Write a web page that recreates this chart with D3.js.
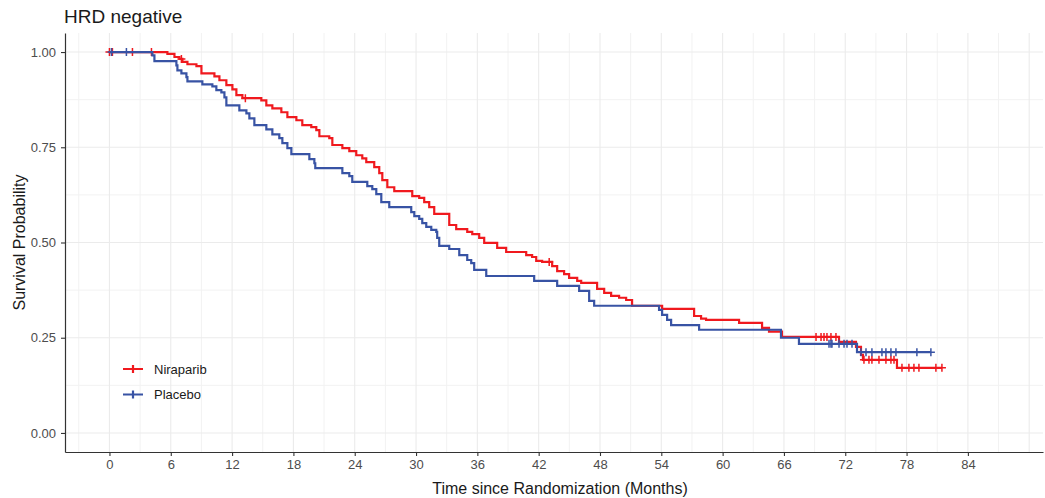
<!DOCTYPE html>
<html>
<head>
<meta charset="utf-8">
<script src="https://cdn.jsdelivr.net/npm/d3@7"></script>
<style>
  body { margin: 0; background: #fff; }
  svg { display: block; font-family: "Liberation Sans", Arial, sans-serif; }
</style>
</head>
<body>
<div id="chart"></div>
<script>
// Kaplan-Meier steps: [months, survival]
const niraparibSteps = [
  [0, 1], [5.67, 0.995], [6.36, 0.987], [6.85, 0.982], [7.14, 0.974], [7.63, 0.968], [8.51, 0.963],
  [9.00, 0.944], [10.27, 0.936], [10.76, 0.926], [11.44, 0.913], [12.03, 0.902], [12.42, 0.887],
  [13.01, 0.879], [14.86, 0.873], [15.35, 0.860], [15.94, 0.852], [16.82, 0.842], [17.41, 0.829],
  [18.29, 0.821], [18.87, 0.808], [19.75, 0.803], [20.24, 0.795], [20.54, 0.779], [21.51, 0.774],
  [21.81, 0.756], [22.79, 0.748], [23.47, 0.740], [24.15, 0.729], [24.74, 0.721], [25.13, 0.711],
  [25.91, 0.698], [26.40, 0.682], [26.70, 0.664], [27.19, 0.645], [27.87, 0.635], [29.63, 0.622],
  [30.31, 0.617], [30.80, 0.606], [31.29, 0.593], [31.78, 0.575], [33.25, 0.546], [33.93, 0.535],
  [35.01, 0.528], [35.50, 0.522], [36.18, 0.512], [36.67, 0.499], [37.94, 0.486], [38.82, 0.475],
  [40.78, 0.467], [41.36, 0.462], [41.76, 0.452], [42.34, 0.449], [43.32, 0.438], [43.81, 0.425],
  [44.49, 0.417], [44.98, 0.407], [45.77, 0.399], [46.16, 0.394], [47.72, 0.378], [48.41, 0.368],
  [49.09, 0.360], [49.87, 0.355], [50.56, 0.349], [51.14, 0.334], [54.08, 0.326], [57.21, 0.307],
  [57.89, 0.300], [58.38, 0.297], [61.61, 0.289], [63.86, 0.276], [64.54, 0.266], [65.81, 0.252],
  [71.39, 0.239], [73.05, 0.226], [73.54, 0.205], [73.73, 0.192], [77.06, 0.171]
];
const niraparibEnd = 81.46;
const niraparibCensor = [0, 0.29, 2.25, 4.11, 7.04, 13.30, 43.03, 69.14, 69.63, 69.92, 70.21, 70.60,
  71.09, 73.83, 74.32, 74.61, 75.30, 75.98, 76.47, 76.77, 77.55, 78.23, 78.72, 79.21, 80.87, 81.46];

const placeboSteps = [
  [0, 1], [4.20, 0.991], [4.40, 0.976], [6.55, 0.965], [6.65, 0.952], [7.04, 0.944], [7.53, 0.934],
  [7.63, 0.923], [9.09, 0.915], [10.07, 0.910], [10.46, 0.900], [10.95, 0.894], [11.25, 0.881],
  [11.44, 0.860], [12.71, 0.847], [13.40, 0.839], [13.69, 0.826], [14.18, 0.808], [15.35, 0.797],
  [15.94, 0.784], [16.62, 0.774], [16.92, 0.761], [17.41, 0.748], [17.80, 0.732], [19.56, 0.719],
  [20.05, 0.708], [20.14, 0.695], [22.79, 0.682], [23.47, 0.674], [23.76, 0.659], [25.23, 0.648],
  [25.72, 0.640], [26.11, 0.627], [26.60, 0.606], [27.38, 0.593], [29.53, 0.580], [29.83, 0.569],
  [30.31, 0.562], [30.61, 0.551], [31.00, 0.541], [31.49, 0.533], [31.98, 0.528], [32.07, 0.512],
  [32.27, 0.491], [33.25, 0.483], [34.23, 0.467], [35.01, 0.454], [35.40, 0.446], [35.69, 0.428],
  [36.87, 0.412], [41.56, 0.399], [43.81, 0.386], [45.96, 0.373], [46.94, 0.347], [47.43, 0.334],
  [53.78, 0.323], [54.08, 0.310], [54.57, 0.297], [54.96, 0.283], [57.70, 0.271], [65.71, 0.250],
  [67.47, 0.234], [73.15, 0.212]
];
const placeboEnd = 80.38;
const placeboCensor = [0.2, 1.66, 70.41, 70.60, 70.70, 71.39, 71.88, 72.17, 72.66, 73.54, 74.03,
  74.61, 75.59, 75.98, 76.47, 76.96, 79.01, 80.38];

const xTicks = d3.range(0, 85, 6);
const yTicks = [0, 0.25, 0.5, 0.75, 1];

const series = [
  { name: "Niraparib", color: "#F0191E", steps: niraparibSteps, end: niraparibEnd, censor: niraparibCensor },
  { name: "Placebo", color: "#3853A4", steps: placeboSteps, end: placeboEnd, censor: placeboCensor }
];

const width = 1045, height = 498;
const margin = { top: 33, right: 2, bottom: 46, left: 65 };

const svg = d3.select("#chart").append("svg")
  .attr("width", width)
  .attr("height", height);

const x = d3.scaleLinear().domain([-4.35, 91.35]).range([margin.left, width - margin.right]);
const y = d3.scaleLinear().domain([-0.05, 1.05]).range([height - margin.bottom, margin.top]);

// grid
const grid = svg.append("g");
const xMinor = d3.range(-3, 91, 6);
const yMinor = [0.125, 0.375, 0.625, 0.875];
grid.selectAll(".xm").data(xMinor).enter().append("line")
  .attr("x1", d => x(d)).attr("x2", d => x(d))
  .attr("y1", margin.top).attr("y2", height - margin.bottom)
  .attr("stroke", "#F2F2F2").attr("stroke-width", 1);
grid.selectAll(".ym").data(yMinor).enter().append("line")
  .attr("x1", margin.left).attr("x2", width - margin.right)
  .attr("y1", d => y(d)).attr("y2", d => y(d))
  .attr("stroke", "#F2F2F2").attr("stroke-width", 1);
grid.selectAll(".xM").data(xTicks.concat([90])).enter().append("line")
  .attr("x1", d => x(d)).attr("x2", d => x(d))
  .attr("y1", margin.top).attr("y2", height - margin.bottom)
  .attr("stroke", "#EBEBEB").attr("stroke-width", 1.1);
grid.selectAll(".yM").data(yTicks).enter().append("line")
  .attr("x1", margin.left).attr("x2", width - margin.right)
  .attr("y1", d => y(d)).attr("y2", d => y(d))
  .attr("stroke", "#EBEBEB").attr("stroke-width", 1.1);

// axes
const xAxis = svg.append("g")
  .attr("transform", `translate(0,${height - margin.bottom})`)
  .call(d3.axisBottom(x).tickValues(xTicks).tickSize(4).tickPadding(4).tickSizeOuter(0));
const yAxis = svg.append("g")
  .attr("transform", `translate(${margin.left},0)`)
  .call(d3.axisLeft(y).tickValues(yTicks).tickFormat(d3.format(".2f")).tickSize(4).tickPadding(5).tickSizeOuter(0));
[xAxis, yAxis].forEach(a => {
  a.select(".domain").attr("stroke", "#333").attr("stroke-width", 1.2);
  a.selectAll(".tick line").attr("stroke", "#333").attr("stroke-width", 1.1);
  a.selectAll(".tick text").attr("fill", "#4D4D4D").style("font-size", "13px")
    .style("font-family", "'Liberation Sans', Arial, sans-serif");
});

// curves
const line = d3.line().x(d => x(d[0])).y(d => y(d[1])).curve(d3.curveStepAfter);

function survAt(steps, t) {
  let s = 1;
  for (const [st, sv] of steps) { if (st <= t) s = sv; }
  return s;
}

const plot = svg.append("g");
series.forEach(s => {
  const pts = s.steps.concat([[s.end, s.steps[s.steps.length - 1][1]]]);
  plot.append("path")
    .attr("d", line(pts))
    .attr("fill", "none")
    .attr("stroke", s.color)
    .attr("stroke-width", 2.2);
  plot.selectAll(null).data(s.censor).enter().append("path")
    .attr("d", d => {
      const cx = x(d), cy = y(survAt(s.steps, d));
      return `M${cx - 4},${cy}H${cx + 4}M${cx},${cy - 4}V${cy + 4}`;
    })
    .attr("stroke", s.color)
    .attr("stroke-width", 1.5)
    .attr("fill", "none");
});

// legend
const legend = svg.append("g").attr("transform", "translate(123,369)");
series.forEach((s, i) => {
  const g = legend.append("g").attr("transform", `translate(0,${i * 25.5})`);
  g.append("path").attr("d", "M0,0H20M10,-4V4")
    .attr("stroke", s.color).attr("stroke-width", 2.2).attr("fill", "none");
  g.append("text").attr("x", 31).attr("y", 0).attr("dy", "0.35em")
    .style("font-size", "13px").attr("fill", "#1A1A1A").text(s.name);
});

// titles
svg.append("text").attr("x", 64).attr("y", 23)
  .style("font-size", "19px").attr("fill", "#1A1A1A").text("HRD negative");
svg.append("text")
  .attr("x", 560).attr("y", 494)
  .attr("text-anchor", "middle").style("font-size", "16px").attr("fill", "#1A1A1A")
  .text("Time since Randomization (Months)");
svg.append("text")
  .attr("transform", `translate(25,${y(0.5)}) rotate(-90)`)
  .attr("text-anchor", "middle").style("font-size", "16px").attr("fill", "#1A1A1A")
  .text("Survival Probability");
</script>
</body>
</html>
